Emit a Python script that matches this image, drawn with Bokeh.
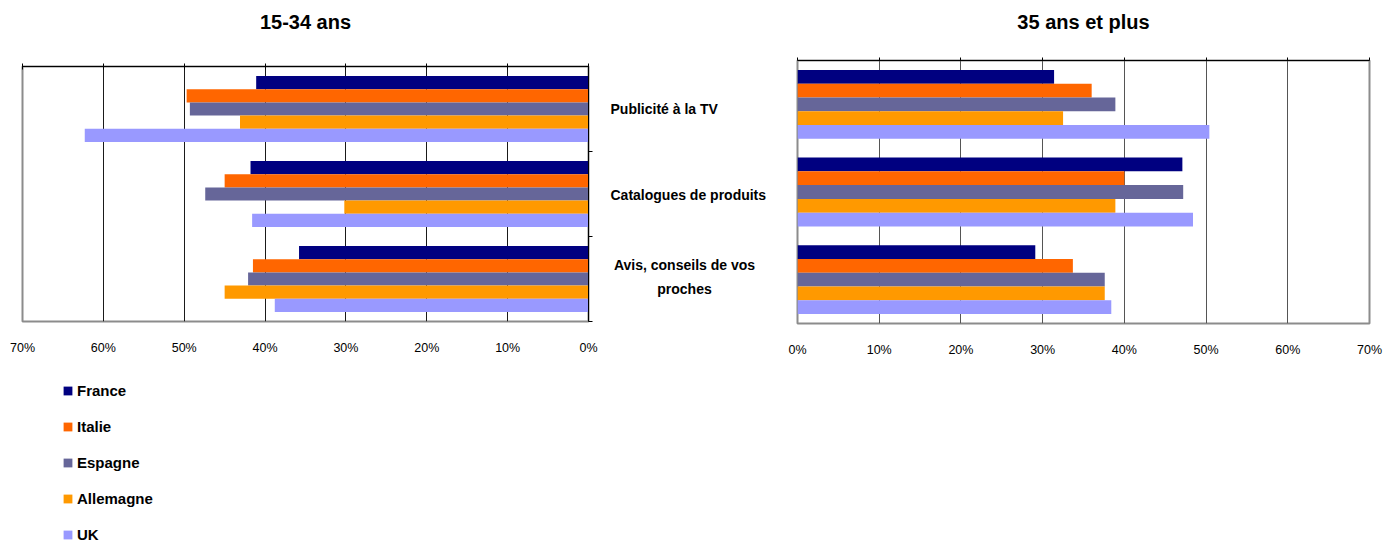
from bokeh.plotting import figure
from bokeh.models import (FactorRange, Range1d, LinearAxis, FixedTicker,
                          NumeralTickFormatter, Legend, LegendItem, Grid)
from bokeh.core.properties import value
from bokeh.layouts import row, column
from bokeh.embed import file_html
from bokeh.resources import INLINE

# ---------------- data ----------------
titles = ["15-34 ans", "35 ans et plus"]
categories = ["Publicité à la TV", "Catalogues de produits", "Avis, conseils de vos proches"]
category_labels = ["Publicité à la TV", "Catalogues de produits", "Avis, conseils de vos\nproches"]
countries = ["France", "Italie", "Espagne", "Allemagne", "UK"]
colors = ["#000080", "#FF6600", "#666699", "#FF9900", "#9999FF"]
tick_values = [0.0, 0.1, 0.2, 0.3, 0.4, 0.5, 0.6, 0.7]

# 15-34 ans (one value per category)
young_france = [0.411, 0.418, 0.358]
young_italie = [0.497, 0.450, 0.415]
young_espagne = [0.493, 0.474, 0.421]
young_allemagne = [0.431, 0.302, 0.450]
young_uk = [0.623, 0.416, 0.388]

# 35 ans et plus
old_france = [0.314, 0.471, 0.291]
old_italie = [0.360, 0.400, 0.337]
old_espagne = [0.389, 0.472, 0.376]
old_allemagne = [0.325, 0.389, 0.376]
old_uk = [0.504, 0.484, 0.384]

young = [young_france, young_italie, young_espagne, young_allemagne, young_uk]
old = [old_france, old_italie, old_espagne, old_allemagne, old_uk]

FONT = "Liberation Sans"
N = len(countries)


def plain_fig(width, height, x_range, y_range, mb=(0, 0, 0, 0)):
    p = figure(width=width, height=height, x_range=x_range, y_range=y_range,
               output_backend="svg", toolbar_location=None,
               x_axis_location=None, y_axis_location=None,
               min_border_left=mb[0], min_border_right=mb[1],
               min_border_top=mb[2], min_border_bottom=mb[3])
    for g in p.grid:
        g.visible = False
    p.outline_line_color = None
    p.background_fill_color = "white"
    p.border_fill_color = "white"
    return p


def make_range(group_pad, end_pad):
    factors = [(c, k) for c in reversed(categories) for k in reversed(countries)]
    return FactorRange(*factors, factor_padding=0, group_padding=group_pad,
                       range_padding=end_pad, range_padding_units="absolute")


def blank_axis(ticks, tick_in, tick_out):
    return LinearAxis(ticker=FixedTicker(ticks=ticks),
                      major_label_overrides={t: "" for t in ticks},
                      major_label_standoff=0,
                      major_tick_in=tick_in, major_tick_out=tick_out,
                      axis_line_color="#000000", major_tick_line_color="#000000",
                      minor_tick_line_color=None)


def chart_fig(width, height, x_range, y_range, mb, grid_color, top_tick_in):
    p = plain_fig(width, height, x_range, y_range, mb)
    p.outline_line_color = "#8c8c8c"
    p.outline_line_width = 2
    p.add_layout(Grid(dimension=0, ticker=FixedTicker(ticks=tick_values),
                      grid_line_color=grid_color, grid_line_width=1), "center")
    bottom = LinearAxis(ticker=FixedTicker(ticks=tick_values),
                        formatter=NumeralTickFormatter(format="0%"),
                        axis_line_color=None, major_tick_line_color=None,
                        minor_tick_line_color=None, major_label_standoff=13,
                        major_label_text_font=FONT,
                        major_label_text_font_size="12.5px",
                        major_label_text_color="#000000")
    p.add_layout(bottom, "below")
    p.add_layout(blank_axis(tick_values, top_tick_in, 3), "above")
    return p


def add_bars(p, series):
    for country, vals, col in zip(countries, series, colors):
        p.hbar(y=[(c, country) for c in categories], left=0, right=vals,
               height=1.0, fill_color=col, line_color=None)


# ---------------- titles ----------------
title_fig = plain_fig(1385, 40, Range1d(0, 1385), Range1d(40, 0))
title_fig.text(x=[305, 1083], y=[21, 21], text=titles, text_align="center",
               text_baseline="middle", text_font=value(FONT), text_font_style="bold",
               text_font_size="20px", text_color="#000000")

# ---------------- left chart: 15-34 ans ----------------
GP_L, EP_L = 1.44, 0.72
left = chart_fig(600, 342, Range1d(0.70, 0), make_range(GP_L, EP_L),
                 (22, 12, 26, 61), "#1a1a1a", 3)
boundaries = [-EP_L + i * (N + GP_L) for i in range(len(categories) + 1)]
left.add_layout(blank_axis(boundaries, 0, 4), "right")
add_bars(left, young)

# ---------------- legend (below the left chart) ----------------
# legend swatches: one zero-width bar per country, kept outside the visible range
legend_fig = plain_fig(600, 160, Range1d(0, 1), Range1d(0, 1))
legend_rends = [legend_fig.hbar(y=[-5], left=[0], right=[0], height=1.0,
                                fill_color=col, line_color=None) for col in colors]
legend = Legend(items=[LegendItem(label=c, renderers=[r]) for c, r in zip(countries, legend_rends)],
                location=(40, -1), orientation="vertical",
                glyph_width=11, glyph_height=11, label_height=16, label_standoff=4,
                spacing=19, padding=0, margin=0, border_line_color=None,
                background_fill_alpha=0, label_text_font=FONT,
                label_text_font_style="bold", label_text_font_size="15px",
                label_text_color="#000000")
legend_fig.add_layout(legend, "center")

# ---------------- category labels (between the charts) ----------------
labels = plain_fig(187, 502, Range1d(0, 187), FactorRange(*reversed(categories)),
                   (0, 0, 20, 219))
label_x = [10, 10, 84]
label_align = ["left", "left", "center"]
label_dy = [5, 3, -3]
labels.text(x=label_x, y=categories, text=category_labels, text_align=label_align,
            text_baseline="middle", text_font=value(FONT), text_font_style="bold",
            text_font_size="14px", text_color="#000000", y_offset=label_dy,
            text_line_height=1.5)

# ---------------- right chart: 35 ans et plus ----------------
right = chart_fig(598, 502, Range1d(0, 0.70), make_range(1.355, 0.68),
                  (10, 16, 20, 219), "#555555", 0)
add_bars(right, old)

layout = column(title_fig, row(column(left, legend_fig), labels, right))
open("out.html", "w").write(file_html(layout, INLINE))
